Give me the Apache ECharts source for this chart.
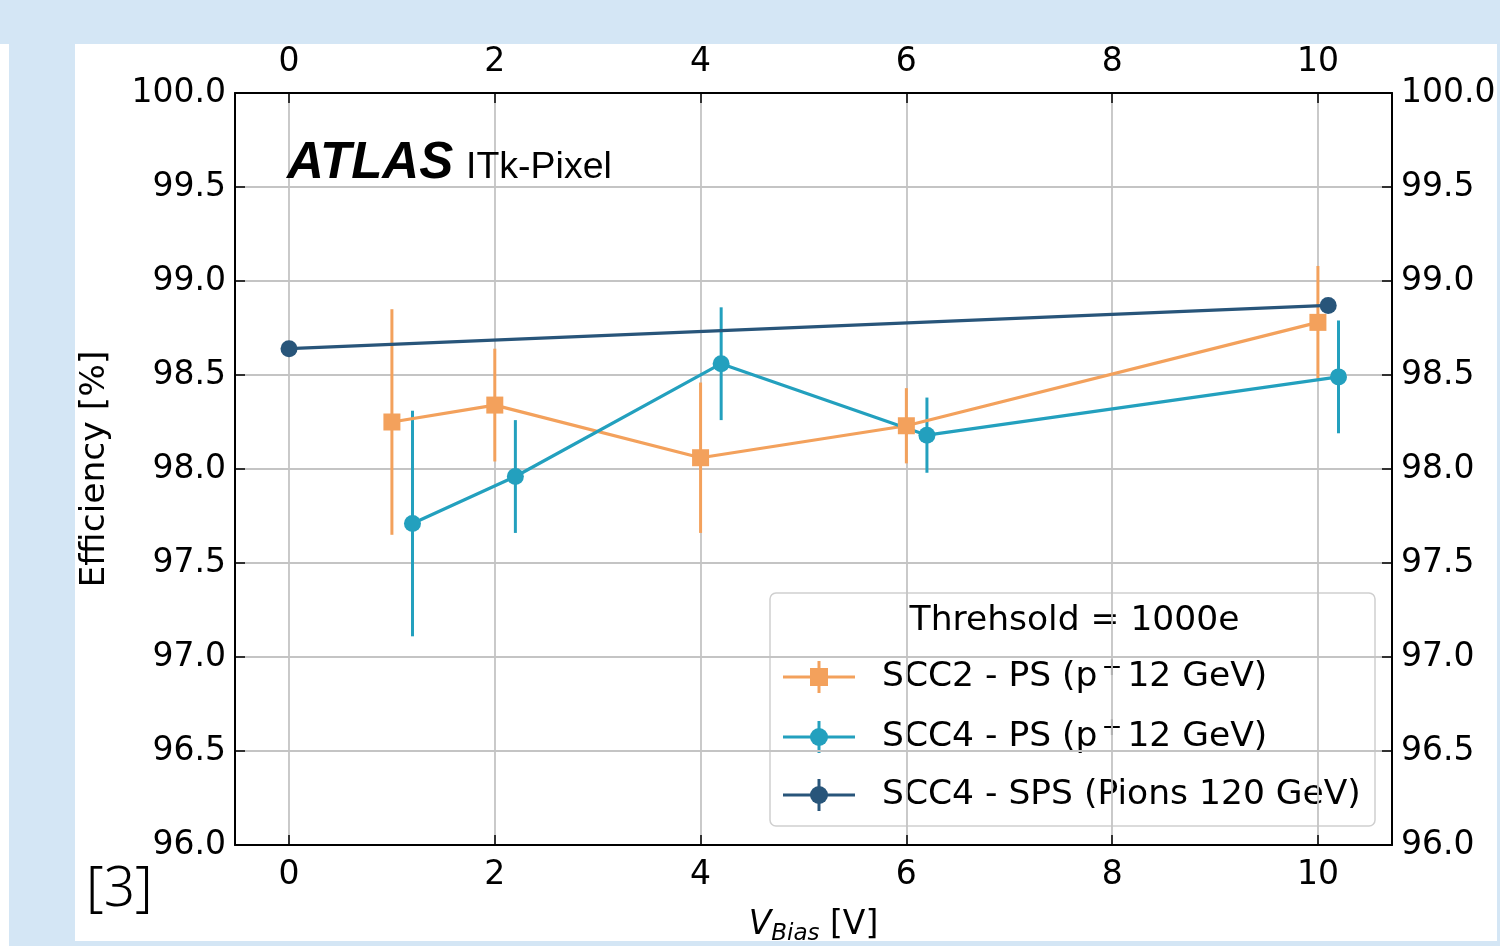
<!DOCTYPE html>
<html><head><meta charset="utf-8">
<script src="https://cdn.jsdelivr.net/npm/echarts@6/dist/echarts.min.js"></script>
<style>
html,body{margin:0;padding:0;background:#fff;}
#wrap{position:relative;width:1500px;height:946px;overflow:hidden;background:#fff;}
.band{position:absolute;background:#d4e6f5;}
#chart{position:absolute;left:0;top:0;width:1500px;height:946px;}
</style></head><body>
<div id="wrap">
<div class="band" style="left:0;top:0;width:1500px;height:44px"></div>
<div class="band" style="left:9px;top:44px;width:66px;height:902px"></div>
<div class="band" style="left:9px;top:941px;width:1491px;height:5px"></div>
<div class="band" style="left:1497px;top:44px;width:3px;height:902px"></div>
<div id="chart"></div>
</div>
<script>
// ---- data ----
const xTicks = [0, 2, 4, 6, 8, 10];
const scc2X = [1, 2, 4, 6, 10];
const scc2Y = [98.25, 98.34, 98.06, 98.23, 98.78];
const scc2Err = [0.6, 0.3, 0.4, 0.2, 0.3];
const scc4X = [1.2, 2.2, 4.2, 6.2, 10.2];
const scc4Y = [97.71, 97.96, 98.56, 98.18, 98.49];
const scc4Err = [0.6, 0.3, 0.3, 0.2, 0.3];
const spsX = [0, 10.1];
const spsY = [98.64, 98.87];
const legendTitle = 'Threhsold = 1000e';
const names = ['SCC2 - PS (p{sup|+}12 GeV)', 'SCC4 - PS (p{sup|+}12 GeV)', 'SCC4 - SPS (Pions 120 GeV)'];

// ---- style ----
const C_OR = '#f3a15c', C_TE = '#23a0be', C_DK = '#28557a';
const FONT = 'DejaVu Sans';
const FS = 33;

const chart = echarts.init(document.getElementById('chart'), null, {renderer: 'canvas'});

function pairs(xs, ys) { return xs.map((x, i) => [x, ys[i]]); }
function errData(xs, ys, es) { return xs.map((x, i) => [x, ys[i] - es[i], ys[i] + es[i]]); }
function errSeries(data, color) {
  return {
    type: 'custom', data: data, encode: {x: 0, y: [1, 2]}, z: 2, silent: true,
    renderItem: function (params, api) {
      const p1 = api.coord([api.value(0), api.value(1)]);
      const p2 = api.coord([api.value(0), api.value(2)]);
      return {type: 'line', shape: {x1: p1[0], y1: p1[1], x2: p2[0], y2: p2[1]},
        style: {stroke: color, lineWidth: 3}};
    }
  };
}
function lineSeries(name, data, color, symbol, size) {
  return {
    name: name, type: 'line', data: data, symbol: symbol, symbolSize: size, showSymbol: true,
    itemStyle: {color: color}, lineStyle: {color: color, width: 3.2}, z: 3
  };
}

const tickLabel = {fontSize: FS, color: '#000', fontFamily: FONT};
function xAx(pos, show) {
  return {
    type: 'value', min: -0.525, max: 10.72, position: pos,
    axisLine: {show: true, onZero: false, lineStyle: {color: '#000', width: 2}},
    axisTick: {show: true, inside: true, length: 10, customValues: xTicks, lineStyle: {color: '#000', width: 1.5}},
    axisLabel: Object.assign({customValues: xTicks, margin: 14}, tickLabel),
    splitLine: {show: show, lineStyle: {color: '#c4c4c4', width: 1.8}}
  };
}
function yAx(pos, show) {
  return {
    type: 'value', min: 96, max: 100, interval: 0.5, position: pos,
    axisLine: {show: true, onZero: false, lineStyle: {color: '#000', width: 2}},
    axisTick: {show: true, inside: true, length: 10, lineStyle: {color: '#000', width: 1.5}},
    axisLabel: Object.assign({margin: 9, padding: [5, 0, 0, 0], formatter: v => v.toFixed(1)}, tickLabel),
    splitLine: {show: show, lineStyle: {color: '#c4c4c4', width: 1.8}}
  };
}

const xb = xAx('bottom', true);
xb.name = '{v|V}{s|Bias} [V]';
xb.nameLocation = 'middle';
xb.nameGap = 60;
xb.nameTextStyle = {fontSize: FS, color: '#000', fontFamily: FONT,
  rich: {v: {fontSize: FS, fontStyle: 'italic', fontFamily: FONT, color: '#000'},
         s: {fontSize: 23, fontStyle: 'italic', fontFamily: FONT, color: '#000', padding: [18, 0, 0, 0]}}};
const yl = yAx('left', true);
yl.name = 'Efficiency [%]';
yl.nameLocation = 'middle';
yl.nameGap = 122;
yl.nameTextStyle = {fontSize: 34.5, color: '#000', fontFamily: FONT};

// legend graphic
const LX = 770, LY = 593, LW = 605, LH = 233;
const rowY = [677, 737, 795];
const legColors = [C_OR, C_TE, C_DK];
const LFS = 34.5;
const legendEls = [
  {type: 'rect', shape: {x: LX, y: LY, width: LW, height: LH, r: 6},
   style: {fill: 'rgba(255,255,255,0.85)', stroke: '#cfcfcf', lineWidth: 1.5}},
  {type: 'text', style: {x: LX + LW / 2 + 2, y: 621, text: legendTitle, fill: '#000',
   font: LFS + 'px "' + FONT + '"', align: 'center', verticalAlign: 'middle'}}
];
rowY.forEach((y, i) => {
  const c = legColors[i];
  legendEls.push({type: 'line', shape: {x1: 783, y1: y, x2: 855, y2: y}, style: {stroke: c, lineWidth: 3}});
  legendEls.push({type: 'line', shape: {x1: 819, y1: y - 16, x2: 819, y2: y + 16}, style: {stroke: c, lineWidth: 3}});
  if (i === 0) legendEls.push({type: 'rect', shape: {x: 810, y: y - 9, width: 18, height: 18}, style: {fill: c}});
  else legendEls.push({type: 'circle', shape: {cx: 819, cy: y, r: 9}, style: {fill: c}});
  legendEls.push({type: 'text', style: {x: 882, y: y, text: names[i], fill: '#000',
    font: LFS + 'px "' + FONT + '"', align: 'left', verticalAlign: 'middle', lineHeight: 42,
    rich: {sup: {fontSize: 25, fontFamily: FONT, fill: '#000', lineHeight: 25,
                 verticalAlign: 'top', padding: [0, 5, 0, 4]}}}});
});

chart.setOption({
  animation: false,
  backgroundColor: 'transparent',
  grid: {left: 235, right: 108, top: 93, bottom: 101, containLabel: false, outerBoundsMode: 'none'},
  xAxis: [xb, xAx('top', false)],
  yAxis: [yl, yAx('right', false)],
  series: [
    errSeries(errData(scc2X, scc2Y, scc2Err), C_OR),
    errSeries(errData(scc4X, scc4Y, scc4Err), C_TE),
    lineSeries('SCC2', pairs(scc2X, scc2Y), C_OR, 'rect', 17),
    lineSeries('SCC4 PS', pairs(scc4X, scc4Y), C_TE, 'circle', 17),
    lineSeries('SCC4 SPS', pairs(spsX, spsY), C_DK, 'circle', 17)
  ],
  graphic: [
    {type: 'text', z: 10, style: {x: 287, y: 164, text: 'ATLAS', fill: '#000',
      font: 'italic bold 51px "Liberation Sans"', align: 'left', verticalAlign: 'middle'}},
    {type: 'text', z: 10, style: {x: 466, y: 168, text: 'ITk-Pixel', fill: '#000',
      font: '37.5px "Liberation Sans"', align: 'left', verticalAlign: 'middle'}},
    {type: 'text', z: 10, style: {x: 86, y: 890, text: '[3]', fill: '#000',
      font: '300 55px "Noto Sans"', align: 'left', verticalAlign: 'middle'}},
    {type: 'group', z: 20, children: legendEls}
  ]
});
</script>
</body></html>
